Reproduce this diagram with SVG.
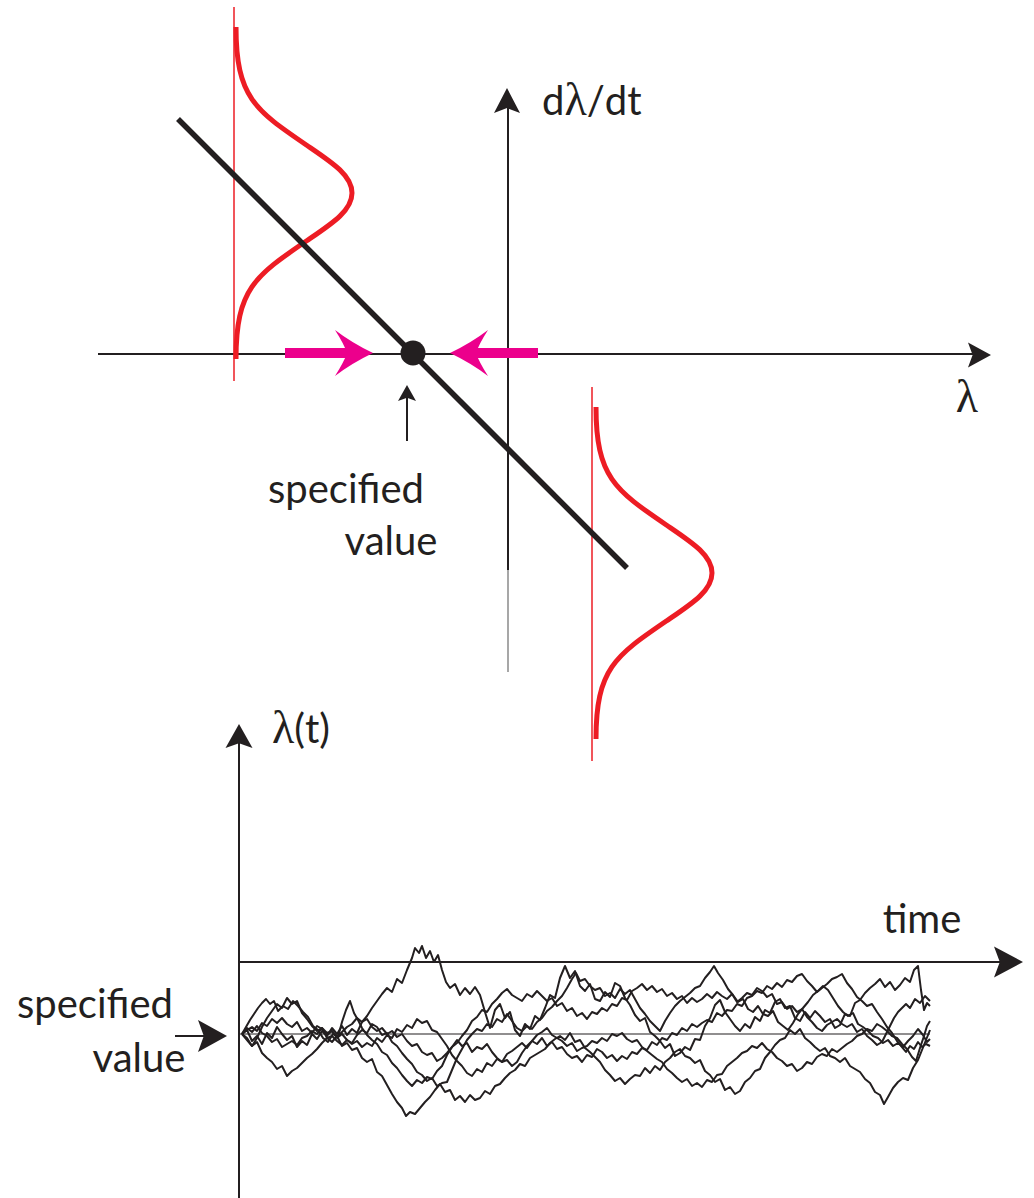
<svg xmlns="http://www.w3.org/2000/svg" width="1034" height="1198" viewBox="0 0 1034 1198">
<style>
.ax{stroke:#231f20;stroke-width:2;fill:none}
.ah{fill:#231f20}
.lbl{font-family:Lato,"Noto Sans","Open Sans",sans-serif;font-size:40px;fill:#231f20}
.gk{font-family:"Liberation Serif","DejaVu Serif",serif;font-size:46px}
.bell{stroke:#ed1c24;stroke-width:5;fill:none}
.thinred{stroke:#ed1c24;stroke-width:1.5}
.mag{fill:#ec008c}
.walk{stroke:#231f20;stroke-width:2;fill:none;stroke-linejoin:round}
</style>
<defs>
<path id="head" d="M0,0 L-1,-0.5 L-0.8,0 L-1,0.5 Z"/>
<path id="gauss" d="M0,-166 C0,-96 19.1,-83 70.4,-48 C95.3,-31 116,-18 116,0 C116,18 95.3,31 70.4,48 C19.1,83 0,96 0,166"/>
<path id="magHead" d="M0,0 Q-21,-10 -38,-23 Q-29,-9 -26,0 Q-29,9 -38,23 Q-21,10 0,0 Z"/>
</defs>
<rect width="1034" height="1198" fill="#fff"/>

<g id="top-plot">
  <g id="top-axes">
    <line class="ax" x1="98" y1="354" x2="975" y2="354"/>
    <use href="#head" class="ah" transform="translate(991,355) scale(23,25)"/>
    <line class="ax" x1="508" y1="570" x2="508" y2="105"/>
    <line x1="508" y1="672" x2="508" y2="570" stroke="#8a8a8a" stroke-width="1.5"/>
    <use href="#head" class="ah" transform="translate(507,88) rotate(-90) scale(25,26)"/>
  </g>
  <g id="distributions">
    <line class="thinred" x1="234" y1="7" x2="234" y2="381"/>
    <use href="#gauss" class="bell" transform="translate(236,193)"/>
    <line class="thinred" x1="592" y1="387" x2="592" y2="761"/>
    <use href="#gauss" class="bell" transform="translate(596,573)"/>
  </g>
  <line id="response-line" x1="178" y1="119" x2="627" y2="568" stroke="#231f20" stroke-width="5.5"/>
  <circle id="fixed-point" cx="413" cy="353" r="12.5" fill="#231f20"/>
  <g id="restoring-arrows">
    <rect class="mag" x="285" y="348" width="64" height="10"/>
    <use href="#magHead" class="mag" transform="translate(373,353)"/>
    <rect class="mag" x="474" y="348" width="64" height="10"/>
    <use href="#magHead" class="mag" transform="translate(450,353) rotate(180)"/>
  </g>
  <g id="spec-pointer">
    <line class="ax" x1="407" y1="441" x2="407" y2="395" stroke-width="1.8"/>
    <use href="#head" class="ah" transform="translate(407,385) rotate(-90) scale(16,18)"/>
  </g>
  <text class="lbl" x="542" y="115">d<tspan class="gk" font-size="44">λ</tspan>/dt</text>
  <text class="lbl gk" x="967" y="412" text-anchor="middle" font-size="48">λ</text>
  <text class="lbl" x="346" y="503" text-anchor="middle">specified</text>
  <text class="lbl" x="391" y="555" text-anchor="middle">value</text>
</g>

<g id="bottom-plot">
  <g id="bottom-axes">
    <line class="ax" x1="239" y1="1198" x2="239" y2="740"/>
    <use href="#head" class="ah" transform="translate(239,724) rotate(-90) scale(24,27)"/>
    <line class="ax" x1="240" y1="962" x2="1005" y2="962"/>
    <use href="#head" class="ah" transform="translate(1023,962) scale(29,31)"/>
    <line x1="240" y1="1034" x2="930" y2="1034" stroke="#231f20" stroke-width="1.1"/>
  </g>
  <g id="spec-arrow">
    <line class="ax" x1="175" y1="1036" x2="210" y2="1036"/>
    <use href="#head" class="ah" transform="translate(227,1036) scale(29,32)"/>
  </g>
  <text class="lbl" x="272" y="743"><tspan class="gk">λ</tspan>(t)</text>
  <text class="lbl" x="922" y="933" text-anchor="middle">time</text>
  <text class="lbl" x="95" y="1018" text-anchor="middle">specified</text>
  <text class="lbl" x="139" y="1072" text-anchor="middle">value</text>
  <g id="walks">
    <polyline class="walk" points="242,1034 247,1030 252,1041 257,1036 262,1044 267,1033 272,1038 277,1027 282,1034 287,1040 292,1036 297,1047 302,1041 307,1045 312,1034 317,1039 322,1031 327,1036 332,1028 337,1034 342,1026 347,1035 352,1029 357,1033 362,1022 367,1016 372,1008 377,1001 382,994 387,988 392,992 397,979 402,983 407,970 412,958 415,948 419,953 422,946 426,958 430,951 434,962 438,955 442,970 446,982 450,988 455,984 460,995 465,988 470,994 475,987 480,995 485,1012 490,1028 495,1010 500,1004 505,1018 510,1012 515,1030 520,1036 525,1024 530,1029 535,1016 540,1020 545,1008 550,995 555,998 560,978 565,966 570,978 575,971 580,986 585,991 590,984 595,999 600,1001 605,992 610,997 615,983 620,986 625,998 630,1005 635,1015 640,1021 645,1018 650,1032 655,1036 660,1041 665,1048 670,1044 675,1056 680,1053 685,1047 690,1050 695,1039 700,1040 705,1026 710,1018 715,1005 720,1000 725,1012 730,1019 735,1026 740,1031 745,1024 750,1028 755,1017 760,1021 765,1010 770,1013 775,1002 780,999 785,1008 790,1006 795,1018 800,1021 805,1012 810,1018 815,1011 820,1016 825,1022 830,1019 835,1028 840,1025 845,1014 850,1016 855,1003 860,1000 865,993 870,988 875,984 880,979 885,987 890,982 895,990 900,985 905,978 910,982 914,970 918,966 921,990 924,1010 927,1003 930,1006"/>
    <polyline class="walk" points="242,1034 247,1040 252,1046 257,1038 262,1027 267,1018 272,1011 277,1004 282,1008 287,998 292,1004 297,1001 302,1013 307,1019 312,1026 317,1031 322,1028 327,1038 332,1042 337,1036 342,1046 347,1043 352,1050 357,1048 362,1058 367,1062 372,1059 377,1072 382,1076 387,1085 392,1094 397,1102 402,1108 406,1116 410,1112 415,1114 420,1108 425,1102 430,1097 435,1090 440,1084 445,1092 450,1090 455,1100 460,1096 465,1102 470,1095 475,1100 480,1098 485,1091 490,1094 495,1086 500,1084 505,1078 510,1073 515,1070 520,1064 525,1066 530,1058 535,1055 540,1052 545,1049 550,1043 555,1039 560,1036 565,1040 570,1033 575,1042 580,1040 585,1048 590,1052 595,1057 600,1062 605,1070 610,1075 615,1081 620,1078 625,1084 630,1079 635,1075 640,1076 645,1068 650,1073 655,1066 660,1070 665,1062 670,1058 675,1052 680,1049 685,1056 690,1058 695,1063 700,1060 705,1071 710,1075 715,1082 720,1079 725,1090 730,1087 735,1094 740,1091 745,1082 750,1078 755,1071 760,1069 765,1058 770,1052 775,1045 780,1040 785,1038 790,1030 795,1034 800,1029 805,1038 810,1042 815,1047 820,1051 825,1048 830,1056 835,1058 840,1062 845,1058 850,1066 855,1069 860,1072 865,1079 870,1083 875,1092 880,1095 884,1104 888,1097 893,1088 898,1082 903,1078 908,1080 913,1068 918,1060 922,1050 926,1040 930,1030"/>
    <polyline class="walk" points="242,1034 247,1038 252,1046 257,1042 262,1053 267,1058 272,1062 277,1069 282,1066 287,1076 292,1071 297,1068 302,1063 307,1058 312,1054 317,1049 322,1043 327,1038 332,1036 337,1041 342,1045 347,1040 352,1043 357,1035 362,1030 367,1033 372,1024 377,1027 382,1035 387,1033 392,1042 397,1046 402,1053 407,1059 412,1064 417,1072 422,1075 427,1081 432,1078 437,1086 442,1083 447,1082 452,1070 457,1058 462,1049 467,1040 472,1034 477,1029 482,1031 487,1024 492,1027 497,1019 502,1022 507,1014 512,1021 517,1028 522,1031 527,1026 532,1029 537,1022 542,1018 547,1011 552,1007 557,1001 562,996 567,988 572,979 576,973 580,981 585,979 590,986 595,990 600,988 605,996 610,993 615,998 620,989 625,994 630,990 635,999 640,1008 645,1014 650,1021 655,1026 660,1031 665,1021 670,1013 675,1006 680,1001 685,997 690,993 695,988 700,986 705,978 710,972 714,966 718,973 723,980 728,989 733,995 738,1002 743,999 748,1009 753,1012 758,1006 763,1014 768,1016 773,1011 778,1022 783,1026 788,1030 793,1023 798,1014 803,1008 808,1002 813,995 818,991 823,986 828,990 833,998 838,1006 843,1012 848,1016 853,1013 858,1024 863,1027 868,1031 873,1036 878,1038 883,1043 888,1040 893,1046 898,1043 903,1047 908,1041 913,1036 918,1029 923,1035 927,1042 930,1039"/>
    <polyline class="walk" points="242,1034 246,1027 250,1020 254,1014 258,1008 262,1003 266,999 270,1004 274,1001 278,1011 283,1006 288,1009 293,1001 298,1006 303,1012 308,1017 313,1026 318,1030 323,1038 328,1042 333,1034 338,1037 342,1022 346,1010 350,1001 354,1013 358,1020 362,1028 367,1035 372,1040 377,1044 382,1052 387,1055 392,1063 397,1068 402,1075 407,1081 412,1086 417,1080 422,1083 427,1077 432,1079 437,1071 442,1066 447,1055 452,1047 457,1040 462,1046 467,1043 472,1052 477,1047 482,1049 487,1044 492,1052 497,1058 502,1062 507,1060 512,1066 517,1062 522,1053 527,1046 532,1041 537,1035 542,1032 547,1028 552,1035 557,1038 562,1041 567,1046 572,1043 577,1051 582,1048 587,1046 592,1041 597,1043 602,1038 607,1041 612,1034 617,1036 622,1033 627,1039 632,1042 637,1040 642,1047 647,1051 652,1055 657,1059 662,1062 667,1069 672,1073 677,1078 682,1082 687,1079 692,1086 697,1083 702,1087 707,1080 712,1082 717,1075 722,1074 727,1066 732,1062 737,1058 742,1053 747,1051 752,1046 757,1048 762,1043 767,1049 772,1052 777,1058 782,1061 787,1066 792,1064 797,1071 802,1068 807,1062 812,1064 817,1057 822,1054 827,1056 832,1049 837,1052 842,1048 847,1044 852,1041 857,1036 862,1034 867,1029 872,1031 877,1024 882,1027 887,1031 892,1036 897,1038 902,1044 907,1049 912,1057 916,1061 920,1048 924,1036 927,1026 930,1021"/>
    <polyline class="walk" points="242,1034 247,1030 252,1027 257,1031 262,1023 267,1026 272,1019 277,1023 282,1018 287,1024 292,1027 297,1022 302,1031 307,1028 312,1033 317,1026 322,1029 327,1035 332,1031 337,1038 342,1034 347,1040 352,1044 357,1041 362,1047 367,1043 372,1046 377,1038 382,1042 387,1035 392,1038 397,1029 402,1032 407,1025 412,1028 417,1019 422,1023 427,1021 432,1030 437,1032 442,1039 447,1046 452,1055 457,1061 462,1066 467,1073 472,1076 477,1069 482,1072 487,1063 492,1066 497,1059 502,1062 507,1054 512,1051 517,1047 522,1043 527,1048 532,1041 537,1044 542,1038 547,1046 552,1042 557,1049 562,1047 567,1054 572,1058 577,1056 582,1062 587,1055 592,1057 597,1049 602,1052 607,1058 612,1055 617,1061 622,1056 627,1059 632,1052 637,1054 642,1048 647,1050 652,1042 657,1045 662,1038 667,1040 672,1033 677,1035 682,1028 687,1031 692,1024 697,1027 702,1023 707,1020 712,1022 717,1013 722,1016 727,1010 732,1011 737,1004 742,1006 747,998 752,996 757,991 762,993 767,986 772,989 777,983 782,987 787,980 792,982 797,976 802,974 807,981 812,986 817,992 822,988 827,984 832,979 837,977 842,974 847,983 852,989 857,997 862,1001 867,1006 872,1004 877,1012 882,1019 887,1027 892,1033 897,1041 902,1047 906,1052 910,1046 914,1049 918,1042 922,1047 926,1044 930,1046"/>
    <polyline class="walk" points="242,1034 247,1028 252,1032 257,1026 262,1033 267,1036 272,1042 277,1039 282,1047 287,1044 292,1041 297,1045 302,1038 307,1036 312,1031 317,1034 322,1028 327,1033 332,1031 337,1037 342,1032 347,1027 352,1024 357,1018 362,1022 367,1019 372,1027 377,1031 382,1028 387,1034 392,1031 397,1037 402,1034 407,1041 412,1046 417,1044 422,1052 427,1055 432,1053 437,1061 442,1058 447,1053 452,1047 457,1043 462,1036 467,1030 472,1021 477,1017 482,1010 487,1012 492,1004 497,999 502,993 507,989 512,995 517,998 522,1001 527,994 532,997 537,991 542,996 547,1001 552,998 557,1006 562,1003 567,1011 572,1008 577,1016 582,1013 587,1019 592,1012 597,1014 602,1008 607,1011 612,1004 617,1006 622,998 627,1000 632,991 637,988 642,984 647,990 652,986 657,992 662,989 667,996 672,993 677,999 682,996 687,1003 692,998 697,1002 702,999 707,994 712,998 717,992 722,996 727,999 732,994 737,1002 742,998 747,993 752,995 757,988 762,991 767,997 772,994 777,1004 782,1002 787,1009 792,1006 797,1012 802,1009 807,1017 812,1022 817,1028 822,1031 827,1025 832,1022 837,1019 842,1024 847,1027 852,1024 857,1032 862,1029 867,1036 872,1040 877,1045 882,1042 886,1034 890,1026 894,1018 898,1012 902,1008 906,1004 910,1008 915,999 920,1003 925,996 930,1001"/>
  </g>
</g>
</svg>
